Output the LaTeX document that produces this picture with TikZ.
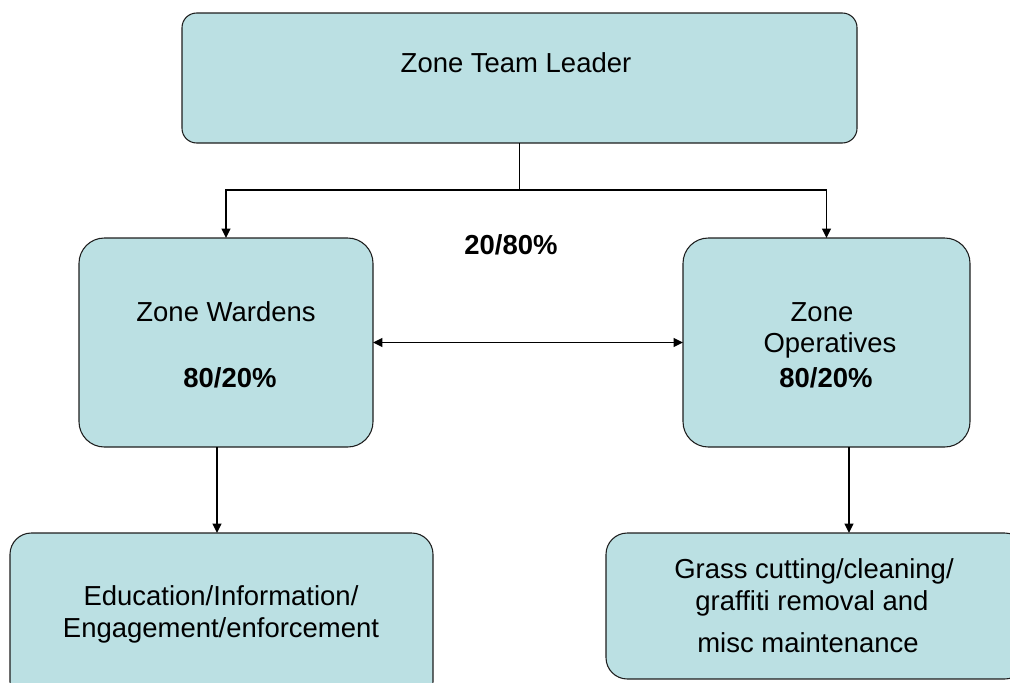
\documentclass[tikz,border=0pt]{standalone}
\usepackage{fontspec}
\setmainfont{Liberation Sans}
\usetikzlibrary{arrows.meta}
\definecolor{boxfill}{RGB}{187,224,227}
\definecolor{boxline}{RGB}{30,30,30}
\tikzset{
  box/.style={draw=boxline, line width=0.8pt, fill=boxfill, inner sep=0pt, outer sep=0pt},
  txt/.style={font=\fontsize{20.6}{24}\selectfont, anchor=base, inner sep=0pt},
  btxt/.style={txt, font=\fontsize{20.6}{24}\selectfont\bfseries},
  tip/.style={Triangle[length=7pt,width=6.5pt]},
  arr/.style={line width=1.2pt, -{Triangle[length=7pt,width=6.5pt]}},
  arrtwo/.style={line width=1.2pt, {Triangle[length=7pt,width=6.5pt]}-{Triangle[length=7pt,width=6.5pt]}}
}
\begin{document}
\begin{tikzpicture}[x=0.75pt,y=-0.75pt]
\useasboundingbox (0,0) rectangle (1010,682);
\clip (0,0) rectangle (1010,682);

% boxes
\node[box, rounded corners=11pt, minimum width=506.25pt, minimum height=97.5pt] (leader) at (519.5,78) {};
\node[box, rounded corners=19pt, minimum width=220.5pt, minimum height=156.75pt] (wardens) at (226,342.5) {};
\node[box, rounded corners=19pt, minimum width=215.25pt, minimum height=156.75pt] (operatives) at (826.5,342.5) {};
\node[box, rounded corners=16pt, minimum width=317.25pt, minimum height=127.5pt] (education) at (221.5,618) {};
\node[box, rounded corners=16pt, minimum width=315pt, minimum height=109.5pt] (grass) at (816,606) {};

% texts
\node[txt] (tleader) at (516,72) {Zone Team Leader};
\node[btxt] (tsplit) at (511,254) {20/80\%};
\node[txt] (twardens) at (226,321) {Zone Wardens};
\node[btxt] (twpct) at (230,387) {80/20\%};
\node[txt] (tzone) at (822,321) {Zone};
\node[txt] (tops) at (830,352) {Operatives};
\node[btxt] (topct) at (826,387) {80/20\%};
\node[txt] (tedu1) at (221,605) {Education/Information/};
\node[txt] (tedu2) at (221,637) {Engagement/enforcement};
\node[txt] (tgr1) at (814,578) {Grass cutting/cleaning/};
\node[txt] (tgr2) at (812,610) {graffiti removal and};
\node[txt] (tgr3) at (808,652) {misc maintenance};

% connectors
\coordinate (split) at (519.5,190);
\draw[line width=1.2pt] (leader.south) -- (split);
\draw[arr] (split) -| (wardens.north);
\draw[arr] (split) -| (operatives.north);
\draw[arrtwo] (wardens.east) -- (operatives.west);
\draw[arr] (wardens.south -| 217,0) -- (education.north -| 217,0);
\draw[arr] (operatives.south -| 849,0) -- (grass.north -| 849,0);
\end{tikzpicture}
\end{document}
